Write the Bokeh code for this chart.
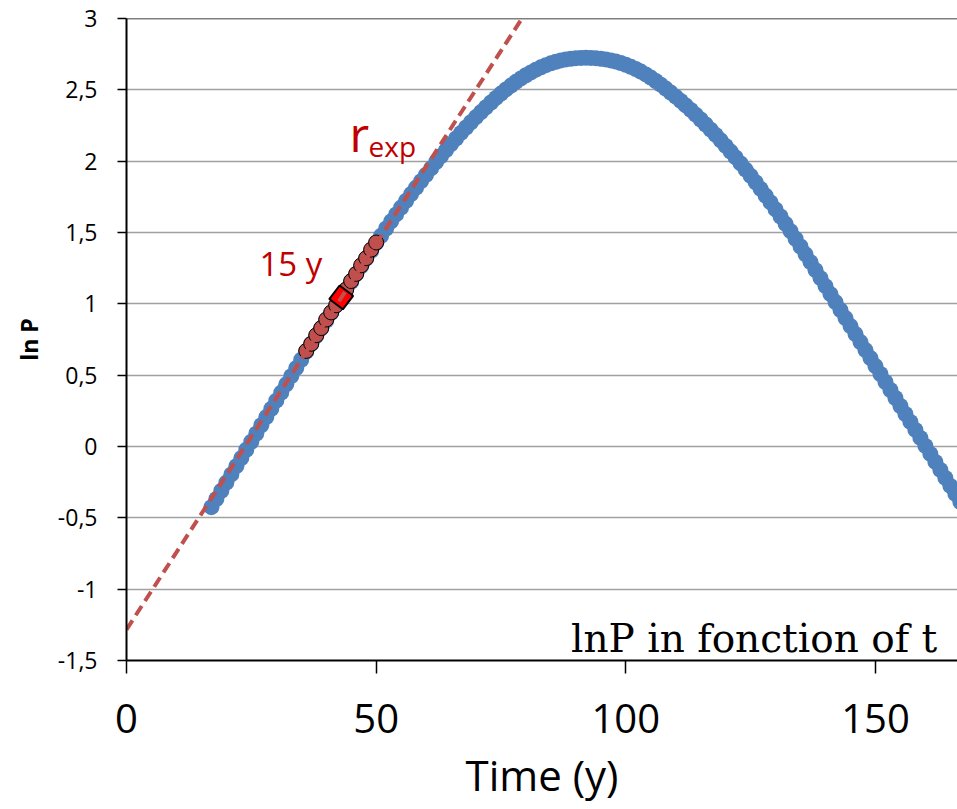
import math
from bokeh.plotting import figure
from bokeh.models import Label, Span, FixedTicker, Range1d
from bokeh.embed import file_html
from bokeh.resources import INLINE

# ---------------- data ----------------
t_blue = list(range(17, 168))
lnp_blue = [
    -0.425, -0.368, -0.310, -0.253, -0.196, -0.138, -0.081, -0.023, 0.034, 0.091,
    0.149, 0.206, 0.264, 0.321, 0.378, 0.436, 0.493, 0.550, 0.608, 0.665,
    0.719, 0.774, 0.828, 0.882, 0.937, 0.991, 1.045, 1.100, 1.154, 1.208,
    1.263, 1.317, 1.371, 1.425,
    1.477, 1.528, 1.578, 1.627, 1.675, 1.722, 1.769, 1.815, 1.860, 1.905,
    1.949, 1.993, 2.036, 2.078, 2.119, 2.159, 2.198, 2.236, 2.273, 2.309,
    2.344, 2.378, 2.411, 2.443, 2.474, 2.503, 2.530, 2.556, 2.580, 2.602,
    2.622, 2.641, 2.658, 2.673, 2.686, 2.697, 2.706, 2.713, 2.718, 2.722,
    2.724, 2.725,
    2.724, 2.722, 2.718, 2.713, 2.706, 2.698, 2.688, 2.676, 2.662, 2.646,
    2.628, 2.608, 2.586, 2.562, 2.536, 2.509, 2.481, 2.452, 2.422, 2.391,
    2.359, 2.326, 2.292, 2.257, 2.221, 2.184, 2.146, 2.107, 2.067, 2.026,
    1.984, 1.941, 1.897, 1.852, 1.806, 1.759, 1.711, 1.662, 1.612, 1.561,
    1.509, 1.456, 1.402, 1.347, 1.292, 1.236, 1.180, 1.124, 1.068, 1.012,
    0.956, 0.900, 0.844, 0.788, 0.732, 0.676, 0.620, 0.564, 0.508, 0.452,
    0.396, 0.340, 0.284, 0.228, 0.172, 0.116, 0.060, 0.004, -0.052, -0.108,
    -0.164, -0.220, -0.276, -0.332, -0.388,
]

t_red = list(range(36, 51))
lnp_red = [0.67, 0.72, 0.78, 0.83, 0.89, 0.94, 0.99, 1.05, 1.10, 1.16,
           1.21, 1.27, 1.32, 1.38, 1.43]

t_mid = [43]
lnp_mid = [1.045]

trend_t = [0, 79.2]
trend_lnp = [-1.283, 3.0]

x_ticks = [0, 50, 100, 150]
y_ticks = [-1.5, -1, -0.5, 0, 0.5, 1, 1.5, 2, 2.5, 3]
y_tick_labels = ["-1,5", "-1", "-0,5", "0", "0,5", "1", "1,5", "2", "2,5", "3"]

# ---------------- figure ----------------
W, H = 957, 809
LEFT, TOP = 126, 18
FRAME_H = 642
PX_PER_T = 4.993
x_end = (W - LEFT) / PX_PER_T

p = figure(width=W, height=H, output_backend="svg", toolbar_location=None,
           x_range=Range1d(0, x_end), y_range=Range1d(-1.5, 3),
           min_border_left=LEFT, min_border_right=0, min_border_top=TOP,
           min_border_bottom=H - TOP - FRAME_H)
p.outline_line_color = None
p.background_fill_color = "white"
p.border_fill_color = "white"

# grid
p.xgrid.visible = False
p.ygrid.ticker = FixedTicker(ticks=y_ticks)
p.ygrid.grid_line_color = "#a0a0a0"
p.ygrid.grid_line_width = 1.5

# axes
p.xaxis.ticker = FixedTicker(ticks=x_ticks)
p.yaxis.ticker = FixedTicker(ticks=y_ticks)
p.yaxis.major_label_overrides = {float(k): v for k, v in zip(y_ticks, y_tick_labels)}
for ax in (p.xaxis[0], p.yaxis[0]):
    ax.axis_line_color = "black"
    ax.axis_line_width = 2
    ax.major_tick_line_color = "black"
    ax.major_tick_line_width = 1.5
    ax.major_tick_in = 0
    ax.minor_tick_line_color = None
    ax.major_label_text_font = "Open Sans"
    ax.major_label_text_color = "black"
    ax.major_label_text_font_style = "normal"
    ax.axis_label_text_font = "Open Sans"
    ax.axis_label_text_color = "black"

p.xaxis.major_tick_out = 13
p.xaxis.major_label_text_font_size = "40px"
p.xaxis.major_label_standoff = 30
p.xaxis.axis_label = "Time (y)"
p.xaxis.axis_label_text_font_size = "42px"
p.xaxis.axis_label_text_font_style = "normal"
p.xaxis.axis_label_standoff = 10

p.yaxis.major_tick_out = 9
p.yaxis.major_label_text_font_size = "23px"
p.yaxis.major_label_standoff = 20
p.yaxis.axis_label = "ln P"
p.yaxis.axis_label_text_font_size = "23px"
p.yaxis.axis_label_text_font_style = "bold"
p.yaxis.axis_label_standoff = 10

# top border line at y = 3
p.add_layout(Span(location=3, dimension="width", line_color="black", line_width=1.5))

# ---------------- glyphs ----------------
p.scatter(t_blue, lnp_blue, size=16, fill_color="#4f81bd", line_color=None)
p.scatter(t_red, lnp_red, size=15, fill_color="#c0504d", line_color="black",
          line_width=1)
p.scatter(t_mid, lnp_mid, marker="square", size=17, angle=0.92,
          fill_color="#ff0000", line_color="black", line_width=2)
p.line(trend_t, trend_lnp, line_color="#c0504d", line_width=4, line_dash="11 6")

# ---------------- texts ----------------
def tx(px):
    return (px - LEFT) / PX_PER_T

def ty(py):
    return (TOP + 3 * FRAME_H / 4.5 - py) / (FRAME_H / 4.5)

p.add_layout(Label(x=tx(936.7), y=ty(638.3), text="lnP in fonction of t",
                   text_font="DejaVu Serif", text_font_size="39px", text_color="black",
                   text_align="right", text_baseline="alphabetic"))
p.add_layout(Label(x=tx(259), y=ty(263.3), text="15 y", text_font="Open Sans",
                   text_font_size="33px", text_color="#c00000", text_align="left",
                   text_baseline="alphabetic"))
p.add_layout(Label(x=tx(349), y=ty(133.3), text="r", text_font="Open Sans",
                   text_font_size="48px", text_color="#c00000", text_align="left",
                   text_baseline="alphabetic"))
p.add_layout(Label(x=tx(368), y=ty(145), text="exp", text_font="Open Sans",
                   text_font_size="28px", text_color="#c00000", text_align="left",
                   text_baseline="alphabetic"))

open("out.html", "w").write(file_html(p, INLINE))
